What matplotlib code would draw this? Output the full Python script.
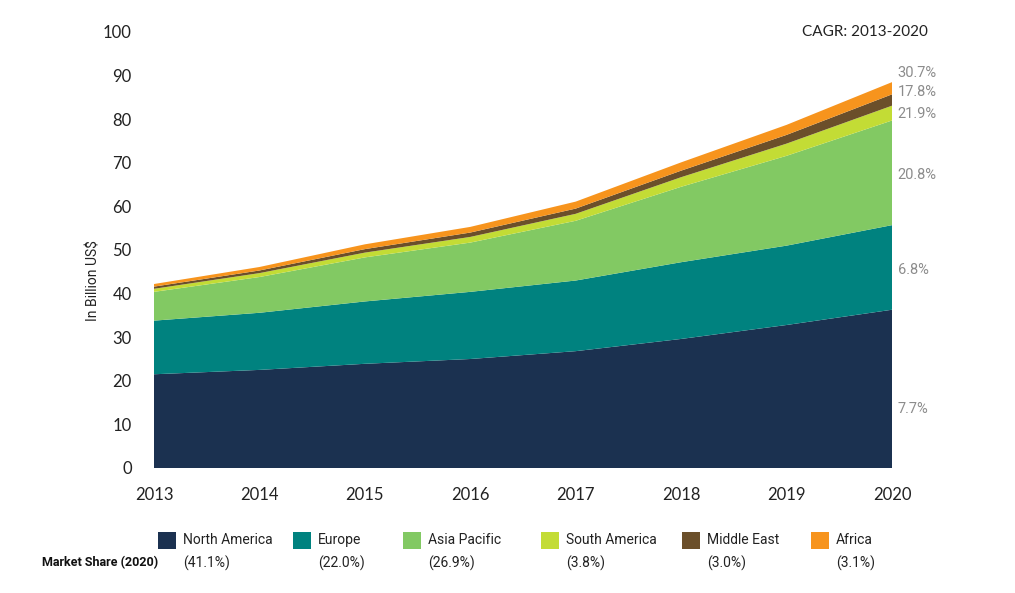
import matplotlib
matplotlib.use("Agg")
import matplotlib.pyplot as plt
from matplotlib.patches import Rectangle

years = [2013, 2014, 2015, 2016, 2017, 2018, 2019, 2020]
regions = ["North America", "Europe", "Asia Pacific", "South America", "Middle East", "Africa"]
north_america = [21.5, 22.5, 23.9, 25.0, 26.8, 29.6, 32.8, 36.3]
europe = [12.3, 13.1, 14.3, 15.4, 16.2, 17.6, 18.2, 19.4]
asia_pacific = [6.6, 8.2, 10.1, 11.3, 13.7, 17.3, 20.6, 24.0]
south_america = [0.7, 0.9, 1.1, 1.3, 1.6, 2.2, 2.8, 3.4]
middle_east = [0.5, 0.6, 0.8, 1.0, 1.2, 1.5, 2.0, 2.6]
africa = [0.6, 0.8, 1.1, 1.3, 1.6, 1.9, 2.3, 2.8]
market_share = ["(41.1%)", "(22.0%)", "(26.9%)", "(3.8%)", "(3.0%)", "(3.1%)"]
cagr_labels = ["7.7%", "6.8%", "20.8%", "21.9%", "17.8%", "30.7%"]
cagr_label_y = [13.5, 45.4, 67.2, 81.2, 86.2, 90.6]
yticks = [0, 10, 20, 30, 40, 50, 60, 70, 80, 90, 100]

colors = ["#1b3150", "#00827f", "#82c963", "#c3dc35", "#6b4f2a", "#f7941d"]
series = [north_america, europe, asia_pacific, south_america, middle_east, africa]

cond = ["Roboto", "DejaVu Sans"]
lato = ["Lato", "DejaVu Sans"]

fig = plt.figure(figsize=(10.15, 5.93), dpi=100)
ax = fig.add_axes([154/1015, 1-468/593, 738/1015, 436/593])
ax.stackplot(years, *series, colors=colors, linewidth=0)
ax.set_xlim(2013, 2020)
ax.set_ylim(0, 100)
for s in ax.spines.values():
    s.set_visible(False)
ax.set_yticks(yticks)
ax.set_xticks(years)
ax.tick_params(length=0)
ax.tick_params(axis="y", pad=16)
ax.tick_params(axis="x", pad=14)
for lab in ax.get_yticklabels() + ax.get_xticklabels():
    lab.set_fontfamily(lato)
    lab.set_fontsize(12)
    lab.set_color("#222222")
ax.set_ylabel("In Billion US$", fontfamily=cond, fontsize=10, color="#222222")
ax.yaxis.set_label_coords(-0.072, 0.43)

for lab, yv in zip(cagr_labels, cagr_label_y):
    ax.annotate(lab, xy=(2020, yv), xytext=(4, 0), textcoords="offset points",
                ha="left", va="center", fontfamily=cond, fontsize=10.5, color="#8c8c8c")

fig.text(928/1015, 1-32/593, "CAGR: 2013-2020", ha="right", va="center",
         fontfamily=lato, fontsize=11, color="#222222")

# legend
leg_x = [158, 293, 403, 541, 682, 811]
for xpx, name, share, c in zip(leg_x, regions, market_share, colors):
    fig.patches.append(Rectangle((xpx/1015, 1-549/593), 18/1015, 17/593,
                                 transform=fig.transFigure, facecolor=c, edgecolor="none"))
    fig.text((xpx+25)/1015, 1-540/593, name, ha="left", va="center",
             fontfamily=cond, fontsize=10, color="#222222")
    fig.text((xpx+25)/1015, 1-563/593, share, ha="left", va="center",
             fontfamily=cond, fontsize=10, color="#222222")
fig.text(42/1015, 1-563/593, "Market Share (2020)", ha="left", va="center",
         fontfamily=cond, fontsize=9, fontweight="bold", color="#111111")

fig.savefig("out.png", dpi=100)
